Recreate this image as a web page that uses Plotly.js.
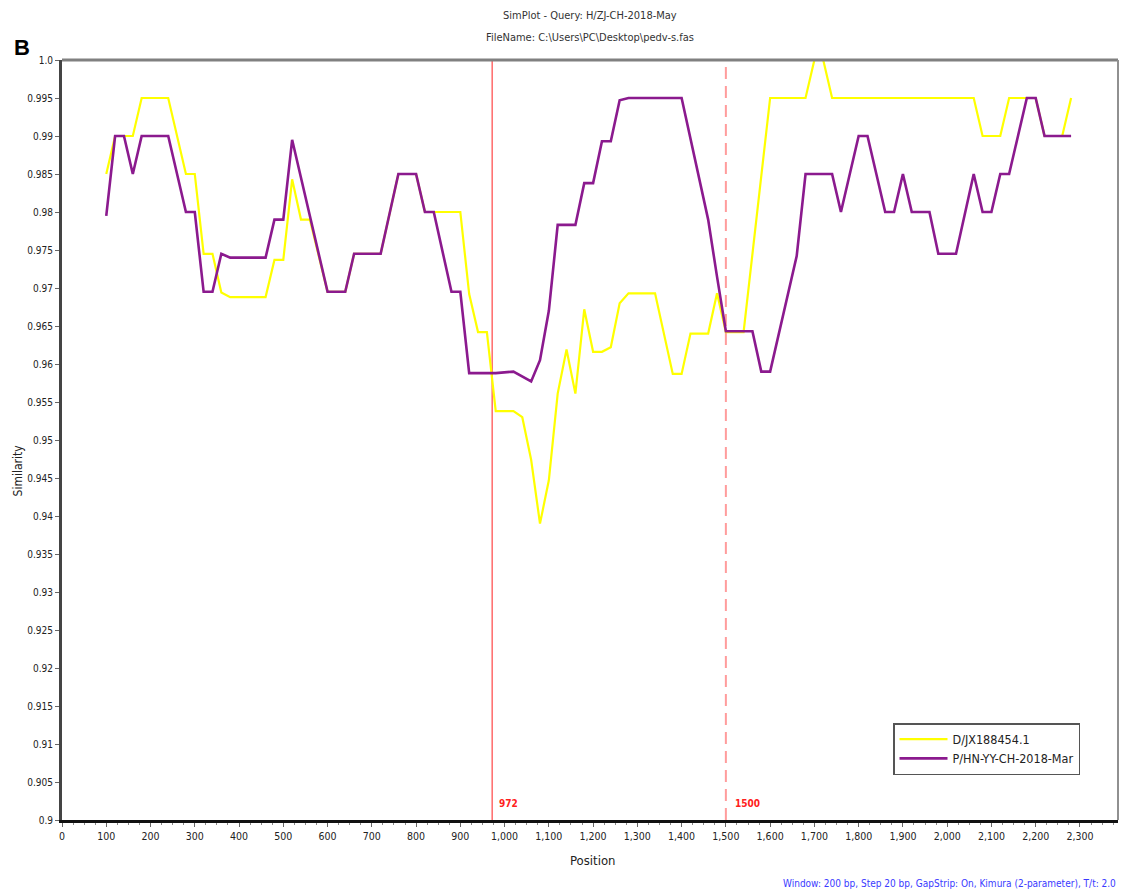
<!DOCTYPE html>
<html>
<head>
<meta charset="utf-8">
<script src="https://cdn.plot.ly/plotly-3.0.1.min.js"></script>
<style>
  html, body { margin: 0; padding: 0; background: #ffffff; }
  #chart { width: 1124px; height: 895px; }
</style>
</head>
<body>
<div id="chart"></div>
<script>
// ---- Data (SimPlot similarity, window 200 bp, step 20 bp) ----
const seriesNames = ["D/JX188454.1", "P/HN-YY-CH-2018-Mar"];

const posYellow = [100, 120, 160, 180, 240, 280, 300, 320, 340, 360, 380, 460, 480, 500, 520, 540, 560,
  600, 640, 660, 720, 760, 800, 820, 840, 900, 920, 940, 960, 980, 1020, 1040, 1060, 1080, 1100,
  1120, 1140, 1160, 1180, 1200, 1220, 1240, 1260, 1280, 1340, 1380, 1400, 1420, 1460, 1480, 1500,
  1540, 1600, 1680, 1700, 1720, 1740, 2060, 2080, 2120, 2140, 2200, 2220, 2260, 2280];
const simYellow = [0.985, 0.99, 0.99, 0.995, 0.995, 0.985, 0.985, 0.9745, 0.9745, 0.9694, 0.9688, 0.9688, 0.9737, 0.9737, 0.9843, 0.979, 0.979,
  0.9695, 0.9695, 0.9745, 0.9745, 0.985, 0.985, 0.98, 0.98, 0.98, 0.9692, 0.9642, 0.9642, 0.9538, 0.9538, 0.953, 0.9474, 0.939, 0.9447,
  0.9561, 0.9619, 0.9561, 0.9672, 0.9616, 0.9616, 0.9622, 0.968, 0.9693, 0.9693, 0.9587, 0.9587, 0.964, 0.964, 0.9693, 0.9642,
  0.9642, 0.995, 0.995, 1.0, 1.0, 0.995, 0.995, 0.99, 0.99, 0.995, 0.995, 0.99, 0.99, 0.995];

const posPurple = [100, 120, 140, 160, 180, 240, 280, 300, 320, 340, 360, 380, 460, 480, 500, 520, 600,
  640, 660, 720, 760, 800, 820, 840, 880, 900, 920, 980, 1020, 1060, 1080, 1100, 1120, 1160, 1180,
  1200, 1220, 1240, 1260, 1280, 1400, 1460, 1480, 1500, 1560, 1580, 1600, 1660, 1680, 1740, 1760,
  1800, 1820, 1860, 1880, 1900, 1920, 1960, 1980, 2020, 2060, 2080, 2100, 2120, 2140, 2180, 2200,
  2220, 2280];
const simPurple = [0.9795, 0.99, 0.99, 0.985, 0.99, 0.99, 0.98, 0.98, 0.9695, 0.9695, 0.9745, 0.974, 0.974, 0.979, 0.979, 0.9895, 0.9695,
  0.9695, 0.9745, 0.9745, 0.985, 0.985, 0.98, 0.98, 0.9695, 0.9695, 0.9588, 0.9588, 0.959, 0.9577, 0.9605, 0.967, 0.9783, 0.9783, 0.9838,
  0.9838, 0.9893, 0.9893, 0.9947, 0.995, 0.995, 0.979, 0.9715, 0.9643, 0.9643, 0.959, 0.959, 0.9742, 0.985, 0.985, 0.98,
  0.99, 0.99, 0.98, 0.98, 0.985, 0.98, 0.98, 0.9745, 0.9745, 0.985, 0.98, 0.98, 0.985, 0.985, 0.995, 0.995,
  0.99, 0.99];

const breakpoints = [972, 1500];
const breakpointLabels = ["972", "1500"];

const xTickVals = [0, 100, 200, 300, 400, 500, 600, 700, 800, 900, 1000, 1100, 1200, 1300, 1400, 1500,
  1600, 1700, 1800, 1900, 2000, 2100, 2200, 2300];
const xTickText = ["0", "100", "200", "300", "400", "500", "600", "700", "800", "900", "1,000", "1,100",
  "1,200", "1,300", "1,400", "1,500", "1,600", "1,700", "1,800", "1,900", "2,000", "2,100", "2,200", "2,300"];
const yTickVals = [0.9, 0.905, 0.91, 0.915, 0.92, 0.925, 0.93, 0.935, 0.94, 0.945, 0.95, 0.955, 0.96,
  0.965, 0.97, 0.975, 0.98, 0.985, 0.99, 0.995, 1.0];
const yTickText = ["0.9", "0.905", "0.91", "0.915", "0.92", "0.925", "0.93", "0.935", "0.94", "0.945",
  "0.95", "0.955", "0.96", "0.965", "0.97", "0.975", "0.98", "0.985", "0.99", "0.995", "1.0"];

const titleLines = ["SimPlot - Query: H/ZJ-CH-2018-May", "FileName: C:\\Users\\PC\\Desktop\\pedv-s.fas"];
const footerText = "Window: 200 bp, Step 20 bp, GapStrip: On, Kimura (2-parameter), T/t: 2.0";

// ---- Chart ----
const narrow = "'Liberation Sans Narrow', 'DejaVu Sans Condensed', 'Liberation Sans', Arial, sans-serif";

const traces = [
  { x: posYellow, y: simYellow, name: seriesNames[0], type: "scatter", mode: "lines",
    line: { color: "#ffff00", width: 2.2 } },
  { x: posPurple, y: simPurple, name: seriesNames[1], type: "scatter", mode: "lines",
    line: { color: "#8b1a8e", width: 2.6 } }
];

const shapes = [
  { type: "line", xref: "x", yref: "paper", x0: breakpoints[0], x1: breakpoints[0], y0: 0, y1: 1,
    line: { color: "#ff6a6a", width: 1.5 }, layer: "below" },
  { type: "line", xref: "x", yref: "paper", x0: breakpoints[1], x1: breakpoints[1], y0: 0, y1: 1,
    line: { color: "#ff9c9c", width: 2, dash: "12px,7px" }, layer: "below" },
  // frame: top (gray) and right (gray)
  { type: "line", xref: "paper", yref: "paper", x0: 0, x1: 1, y0: 1, y1: 1,
    line: { color: "#808080", width: 3 } },
  { type: "line", xref: "paper", yref: "paper", x0: 1, x1: 1, y0: 0, y1: 1,
    line: { color: "#909090", width: 2 } }
];

const annotations = [
  { xref: "paper", yref: "paper", x: 0.5, y: 1.0 + 45 / 760, xanchor: "center", yanchor: "middle",
    text: titleLines[0], showarrow: false, font: { family: narrow, size: 11, color: "#333333" } },
  { xref: "paper", yref: "paper", x: 0.5, y: 1.0 + 23 / 760, xanchor: "center", yanchor: "middle",
    text: titleLines[1], showarrow: false, font: { family: narrow, size: 11, color: "#333333" } },
  { xref: "paper", yref: "paper", x: -40 / 1056, y: 1.0 + 12 / 760, xanchor: "center", yanchor: "middle",
    text: "<b>B</b>", showarrow: false, font: { family: "Liberation Sans, Arial, sans-serif", size: 22, color: "#000000" } },
  { xref: "paper", yref: "paper", x: -44 / 1056, y: 0.46, xanchor: "center", yanchor: "middle",
    text: "Similarity", textangle: -90, showarrow: false, font: { family: narrow, size: 12, color: "#222222" } },
  { xref: "paper", yref: "paper", x: 0.503, y: -40 / 760, xanchor: "center", yanchor: "middle",
    text: "Position", showarrow: false, font: { family: narrow, size: 13, color: "#222222" } },
  { xref: "paper", yref: "paper", x: 1.0, y: -63 / 760, xanchor: "right", yanchor: "middle",
    text: footerText, showarrow: false, font: { family: narrow, size: 10, color: "#3a3aff" } },
  { xref: "x", yref: "paper", x: breakpoints[0], y: 17 / 760, xanchor: "left", yanchor: "middle", xshift: 5,
    text: "<b>" + breakpointLabels[0] + "</b>", showarrow: false, font: { family: narrow, size: 10, color: "#ff2020" } },
  { xref: "x", yref: "paper", x: breakpoints[1], y: 17 / 760, xanchor: "left", yanchor: "middle", xshift: 7,
    text: "<b>" + breakpointLabels[1] + "</b>", showarrow: false, font: { family: narrow, size: 10, color: "#ff2020" } }
];

const layout = {
  width: 1124, height: 895,
  margin: { l: 62, r: 6, t: 60, b: 75 },
  paper_bgcolor: "#ffffff", plot_bgcolor: "#ffffff",
  showlegend: true,
  legend: {
    x: 831 / 1056, y: 97 / 760, xanchor: "left", yanchor: "top",
    bgcolor: "#ffffff", bordercolor: "#555555", borderwidth: 1.5,
    font: { family: narrow, size: 12.5, color: "#222222" },
    itemwidth: 48, tracegroupgap: 0
  },
  xaxis: {
    range: [0, 2386], autorange: false,
    tickvals: xTickVals, ticktext: xTickText,
    ticks: "outside", ticklen: 4, tickwidth: 1, tickcolor: "#666666",
    minor: { dtick: 25, ticks: "outside", ticklen: 2, tickcolor: "#888888", showgrid: false },
    showgrid: false, zeroline: false,
    showline: true, linecolor: "#111111", linewidth: 3,
    tickfont: { family: narrow, size: 10.5, color: "#222222" },
    fixedrange: true
  },
  yaxis: {
    range: [0.9, 1.0], autorange: false,
    tickvals: yTickVals, ticktext: yTickText,
    ticks: "outside", ticklen: 4, tickwidth: 1, tickcolor: "#666666",
    showgrid: false, zeroline: false,
    showline: true, linecolor: "#444444", linewidth: 3,
    tickfont: { family: narrow, size: 10, color: "#222222" },
    fixedrange: true
  },
  shapes: shapes,
  annotations: annotations
};

Plotly.newPlot("chart", traces, layout, { displayModeBar: false, staticPlot: true });
</script>
</body>
</html>
